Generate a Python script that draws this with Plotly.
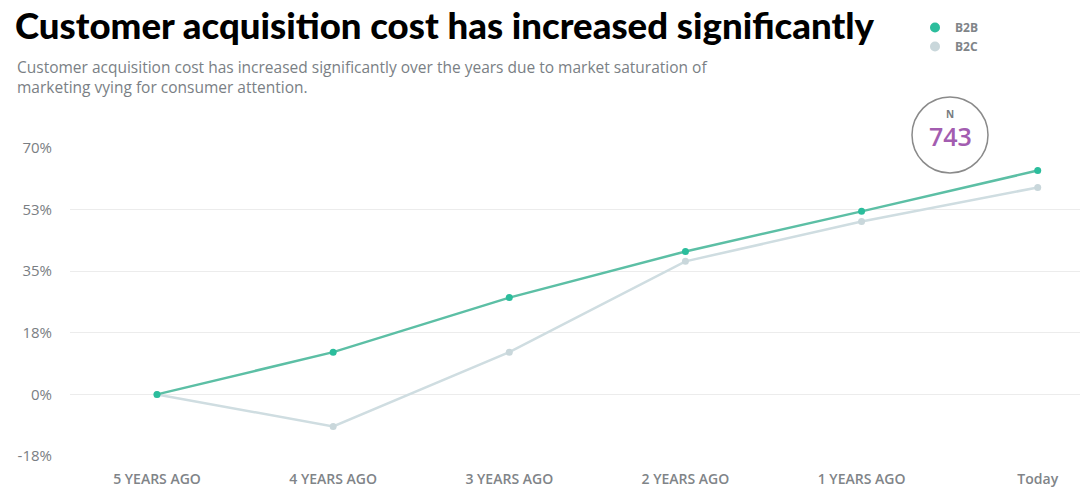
import plotly.graph_objects as go

categories = ["5 YEARS AGO", "4 YEARS AGO", "3 YEARS AGO", "2 YEARS AGO", "1 YEARS AGO", "Today"]
b2b = [0, 12, 27.5, 40.6, 52, 63.6]
b2c = [0, -9.1, 12, 37.8, 49.1, 58.8]
tick_vals = [-17.5, 0, 17.5, 35, 52.5, 70]
tick_text = ["-18%", "0%", "18%", "35%", "53%", "70%"]
n_value = "743"

W, H = 1080, 504
L, R, T, B = 70, 0, 148, 48
PW, PH = W - L - R, H - T - B

def px(x):
    return (x - L) / PW

def py(y):
    return (H - B - y) / PH

B2B_LINE = "#5cbfa5"
B2B_MARK = "#2bbd9c"
B2C_LINE = "#cfdde1"
B2C_MARK = "#c9d7db"

fig = go.Figure()
fig.add_trace(go.Scatter(x=categories, y=b2c, mode="lines+markers", name="B2C",
                         line=dict(color=B2C_LINE, width=2.5),
                         marker=dict(color=B2C_MARK, size=7), showlegend=False))
fig.add_trace(go.Scatter(x=categories, y=b2b, mode="lines+markers", name="B2B",
                         line=dict(color=B2B_LINE, width=2.5),
                         marker=dict(color=B2B_MARK, size=7), showlegend=False))
fig.add_trace(go.Scatter(x=[None], y=[None], mode="markers", name="B2B",
                         marker=dict(color=B2B_MARK, size=10)))
fig.add_trace(go.Scatter(x=[None], y=[None], mode="markers", name="B2C",
                         marker=dict(color=B2C_MARK, size=10)))

fig.update_layout(
    width=W, height=H,
    margin=dict(l=L, r=R, t=T, b=B, autoexpand=False),
    paper_bgcolor="white", plot_bgcolor="white",
    font=dict(family="Open Sans", color="#777b80"),
    showlegend=True,
    legend=dict(x=px(915), y=py(13), xanchor="left", yanchor="top",
                font=dict(size=12, color="#808488", weight="bold"),
                itemwidth=30, tracegroupgap=0, bgcolor="rgba(0,0,0,0)"),
    xaxis=dict(type="category", range=[-0.494, 5.24], showgrid=False, zeroline=False,
               showline=False, ticks="", ticklabelstandoff=13,
               tickfont=dict(size=14, color="#808488", weight=600),
               fixedrange=True),
    yaxis=dict(range=[-17.5, 70], tickvals=tick_vals, ticktext=tick_text,
               showgrid=True, gridcolor="#ececec", gridwidth=1, zeroline=False,
               showline=False, ticks="", ticklabelstandoff=17,
               tickfont=dict(size=15, color="#7a7e83"), fixedrange=True),
    annotations=[
        dict(text="Customer acquisition cost has increased significantly",
             xref="paper", yref="paper", x=px(13), y=py(25), xanchor="left", yanchor="middle",
             showarrow=False, font=dict(family="Lato", size=36.6, color="#000000", weight=900)),
        dict(text="Customer acquisition cost has increased significantly over the years due to market saturation of<br>marketing vying for consumer attention.",
             xref="paper", yref="paper", x=px(15), y=py(77), xanchor="left", yanchor="middle",
             align="left", showarrow=False,
             font=dict(family="Open Sans", size=15.5, color="#7a7f85")),
        dict(text="N", xref="paper", yref="paper", x=px(950), y=py(114), showarrow=False,
             xanchor="center", yanchor="middle",
             font=dict(size=10, color="#777b80", weight="bold")),
        dict(text=n_value, xref="paper", yref="paper", x=px(950), y=py(136), showarrow=False,
             xanchor="center", yanchor="middle",
             font=dict(size=25, color="#a35db0", weight=600)),
    ],
    shapes=[
        dict(type="circle", xref="paper", yref="paper",
             x0=px(912), x1=px(988), y0=py(173), y1=py(97),
             line=dict(color="#8a8a8a", width=1.5), fillcolor="white", layer="above"),
    ],
)

fig.write_html("out.html", config={"displayModeBar": False},
               post_script="document.body.style.margin='0';document.body.style.overflow='hidden';")
